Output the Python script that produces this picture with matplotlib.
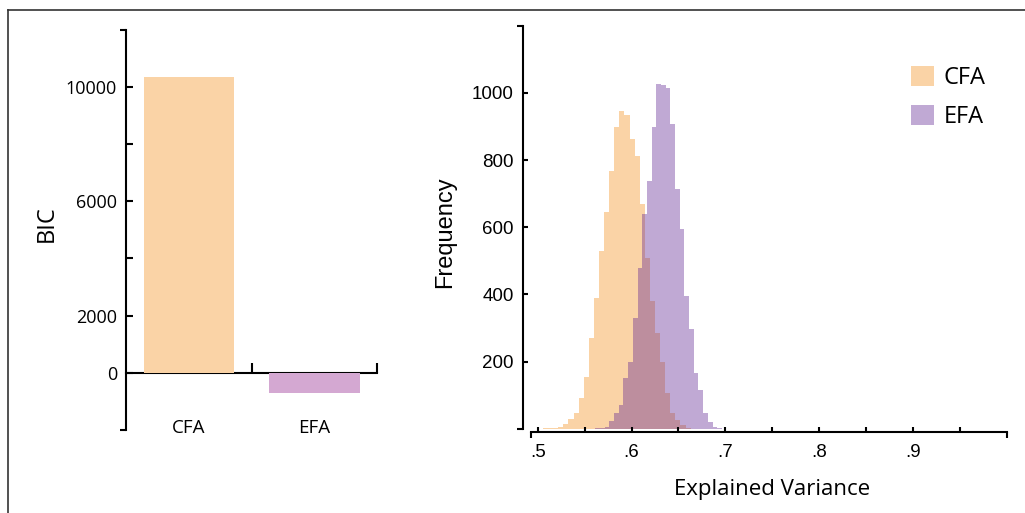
import matplotlib
matplotlib.use('Agg')
import matplotlib.pyplot as plt
from matplotlib.lines import Line2D
from matplotlib.patches import Patch
import numpy as np

# left panel: BIC of each model
models = ['CFA', 'EFA']
bic_values = [10350, -700]
bic_ticks = [0, 2000, 4000, 6000, 8000, 10000]
bic_ticklabels = ['0', '2000', '', '6000', '', '10000']

# right panel: bootstrap histograms of explained variance
cfa_bin_start = 0.5055
cfa_bin_width = 0.00543
cfa_counts = [2, 2, 4, 7, 15, 30, 47, 92, 154, 271, 390, 529, 644, 768, 898,
              945, 934, 863, 811, 669, 509, 380, 284, 198, 108, 47, 25, 12, 4, 1]
efa_bin_start = 0.5613
efa_bin_width = 0.005
efa_counts = [2, 4, 7, 22, 47, 72, 151, 198, 330, 480, 639, 738, 897, 1027,
              1024, 1015, 907, 713, 594, 395, 296, 166, 116, 47, 20, 6, 2]
var_ticks = [0.5, 0.55, 0.6, 0.65, 0.7, 0.75, 0.8, 0.85, 0.9, 0.95]
var_ticklabels = ['.5', '', '.6', '', '.7', '', '.8', '', '.9', '']
freq_ticks = [200, 400, 600, 800, 1000]

orange = '#FAD3A6'
efa_bar_color = '#D4A8D2'
purple = '#622894'
myriad = 'Open Sans'
arial = 'Liberation Sans'
lw = 1.5

fig = plt.figure(figsize=(10.25, 5.13), dpi=100)

# ---- BIC bars ----
ax1 = fig.add_axes([0.123, 0.162, 0.245, 0.780])
x = np.arange(len(models))
ax1.bar(x, bic_values, width=0.72, color=[orange, efa_bar_color])
ax1.set_xlim(-0.5, len(models) - 0.5)
ax1.set_ylim(-2000, 12000)
for s in ['top', 'right', 'bottom']:
    ax1.spines[s].set_visible(False)
ax1.spines['left'].set_linewidth(lw)
ax1.set_yticks(bic_ticks, labels=bic_ticklabels, family=myriad)
ax1.set_yticks(ax1.get_ylim(), minor=True)
ax1.tick_params(axis='y', which='major', direction='in', length=5, width=lw,
                pad=6.5, labelsize=13)
ax1.tick_params(axis='y', which='minor', direction='out', length=4, width=lw)
ax1.set_xticks([])
for i, m in enumerate(models):
    ax1.text(i, 0.005, m, transform=ax1.get_xaxis_transform(), ha='center',
             va='center', fontsize=13.5, family=myriad)

# zero line with category separators
y0, y1 = ax1.get_ylim()
zero_ax = ax1.secondary_xaxis((0 - y0) / (y1 - y0))
zero_ax.set_xticks(x + 0.5)
zero_ax.tick_params(direction='in', length=7, width=lw, labelbottom=False)
zero_ax.spines['bottom'].set_linewidth(lw)

ax1.set_ylabel('BIC', fontsize=17, family=myriad, va='center')
ax1.yaxis.set_label_coords(-0.315, 0.515)

# ---- explained variance histograms ----
ax2 = fig.add_axes([0.518, 0.164, 0.464, 0.786])
cfa_edges = cfa_bin_start + cfa_bin_width * np.arange(len(cfa_counts) + 1)
efa_edges = efa_bin_start + efa_bin_width * np.arange(len(efa_counts) + 1)
ax2.hist(cfa_edges[:-1], bins=cfa_edges, weights=cfa_counts,
         histtype='stepfilled', color=orange, lw=0)
ax2.hist(efa_edges[:-1], bins=efa_edges, weights=efa_counts,
         histtype='stepfilled', color=purple, alpha=0.4, lw=0)
ax2.set_xlim(0.4926, 1.0)
ax2.set_ylim(0, 1200)
for s in ['top', 'right']:
    ax2.spines[s].set_visible(False)
ax2.spines['left'].set_position(('outward', 5.8))
ax2.spines['bottom'].set_position(('outward', 2))
for s in ['left', 'bottom']:
    ax2.spines[s].set_linewidth(lw)

ax2.set_xticks(var_ticks, labels=var_ticklabels, family=arial)
ax2.set_xticks(ax2.get_xlim(), minor=True)
ax2.set_yticks(freq_ticks, labels=[str(t) for t in freq_ticks], family=arial)
ax2.set_yticks(ax2.get_ylim(), minor=True)
ax2.tick_params(which='major', direction='in', length=3.5, width=lw, labelsize=13.5)
ax2.tick_params(axis='x', which='major', pad=9)
ax2.tick_params(axis='y', which='major', pad=6.5)
ax2.tick_params(which='minor', direction='out', length=4, width=lw)

ax2.set_ylabel('Frequency', fontsize=17, family=arial, va='center')
ax2.yaxis.set_label_coords(-0.181, 0.489)
ax2.set_xlabel('Explained Variance', fontsize=16, family=myriad, va='center')
ax2.xaxis.set_label_coords(0.506, -0.151)

handles = [Patch(facecolor=orange, label='CFA'),
           Patch(facecolor=purple, alpha=0.4, label='EFA')]
ax2.legend(handles=handles, loc='upper left', bbox_to_anchor=(0.80, 0.90),
           frameon=False, prop={'family': myriad, 'size': 17},
           handlelength=0.95, handleheight=0.95, handletextpad=0.4,
           labelspacing=0.62, borderpad=0, borderaxespad=0)

# outer frame (top and left edges only)
fig.add_artist(Line2D([8 / 1025, 1], [1 - 10 / 513] * 2, color='#333333', lw=1.2))
fig.add_artist(Line2D([8 / 1025] * 2, [0, 1 - 10 / 513], color='#333333', lw=1.2))

fig.savefig('out.png', dpi=100)
